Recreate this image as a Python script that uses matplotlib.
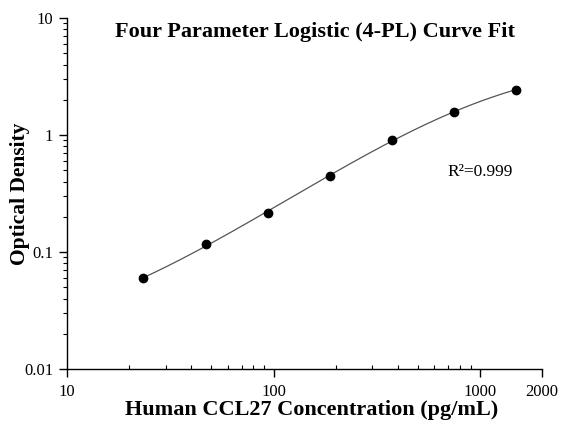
# -*- coding: utf-8 -*-
"""
Curva estandar 4-PL (log-log) para CCL27 humano.
"""
import numpy as np
import matplotlib
matplotlib.use('Agg')
import matplotlib.pyplot as plt
from matplotlib.ticker import FixedLocator, LogLocator, NullFormatter, FixedFormatter

# Datos
concentracion = [23.4375, 46.875, 93.75, 187.5, 375, 750, 1500]
densidad_optica = [0.0596, 0.116, 0.217, 0.447, 0.906, 1.58, 2.44]
x_ticks = [10, 100, 1000, 2000]
x_tick_labels = ['10', '100', '1000', '2000']
y_ticks = [0.01, 0.1, 1, 10]
y_tick_labels = ['0.01', '0.1', '1', '10']
r2_texto = 'R\u00b2=0.999'


def modelo_4pl(p, x):
    a, b, logc, d = p
    return d + (a - d) / (1.0 + (x / np.exp(logc)) ** b)


def ajustar_4pl(x, y):
    """Levenberg-Marquardt simple sobre residuos en escala log."""
    x = np.asarray(x, float)
    y = np.asarray(y, float)
    p = np.array([0.02, 1.2, np.log(1000.0), 4.0])
    lam = 1e-2

    def residuos(q):
        m = np.clip(modelo_4pl(q, x), 1e-9, None)
        return np.log(m) - np.log(y)

    r = residuos(p)
    for _ in range(500):
        J = np.zeros((len(x), len(p)))
        for j in range(len(p)):
            dp = np.zeros_like(p)
            dp[j] = 1e-6 * max(1.0, abs(p[j]))
            J[:, j] = (residuos(p + dp) - r) / dp[j]
        A = J.T @ J
        g = J.T @ r
        paso = np.linalg.solve(A + lam * np.diag(np.diag(A) + 1e-12), -g)
        p_nuevo = p + paso
        r_nuevo = residuos(p_nuevo)
        if np.sum(r_nuevo ** 2) < np.sum(r ** 2):
            p, r = p_nuevo, r_nuevo
            lam *= 0.3
        else:
            lam *= 5
    return p


plt.rcParams['font.family'] = ['Liberation Serif', 'DejaVu Serif']

fig = plt.figure(figsize=(5.63, 4.28), dpi=100)
ax = fig.add_axes([0.119, 0.138, 0.844, 0.82])

params = ajustar_4pl(concentracion, densidad_optica)
xs = np.logspace(np.log10(concentracion[0]), np.log10(concentracion[-1]), 300)
ax.plot(xs, modelo_4pl(params, xs), color='#555555', linewidth=0.9, zorder=2)
ax.scatter(concentracion, densidad_optica, s=36, color='black', zorder=3)

ax.set_xscale('log')
ax.set_yscale('log')
ax.set_xlim(10, 2000)
ax.set_ylim(0.01, 10)

for s in ['top', 'right']:
    ax.spines[s].set_visible(False)
for s in ['left', 'bottom']:
    ax.spines[s].set_linewidth(1.0)

ax.xaxis.set_major_locator(FixedLocator(x_ticks))
ax.xaxis.set_major_formatter(FixedFormatter(x_tick_labels))
ax.xaxis.set_minor_locator(LogLocator(base=10, subs=np.arange(2, 10)))
ax.xaxis.set_minor_formatter(NullFormatter())
ax.yaxis.set_major_locator(FixedLocator(y_ticks))
ax.yaxis.set_major_formatter(FixedFormatter(y_tick_labels))
ax.yaxis.set_minor_locator(LogLocator(base=10, subs=np.arange(2, 10)))
ax.yaxis.set_minor_formatter(NullFormatter())

ax.tick_params(axis='x', which='major', direction='out', length=6, width=1, labelsize=12, pad=5)
ax.tick_params(axis='x', which='minor', direction='in', length=3, width=0.8)
ax.tick_params(axis='y', which='major', direction='out', length=6, width=1, labelsize=12, pad=4)
ax.tick_params(axis='y', which='minor', direction='out', length=3, width=0.8)

fig.text(0.553, 0.042, 'Human CCL27 Concentration (pg/mL)', ha='center', va='center',
         fontsize=16, fontweight='bold')
ax.set_ylabel('Optical Density', fontsize=15.5, fontweight='bold', labelpad=-4)

fig.text(0.559, 0.925, 'Four Parameter Logistic (4-PL) Curve Fit', ha='center', va='center',
         fontsize=16, fontweight='bold')
ax.text(0.87, 0.562, r2_texto, transform=ax.transAxes, ha='center', va='center', fontsize=12.5)

fig.savefig('out.png', dpi=100)
